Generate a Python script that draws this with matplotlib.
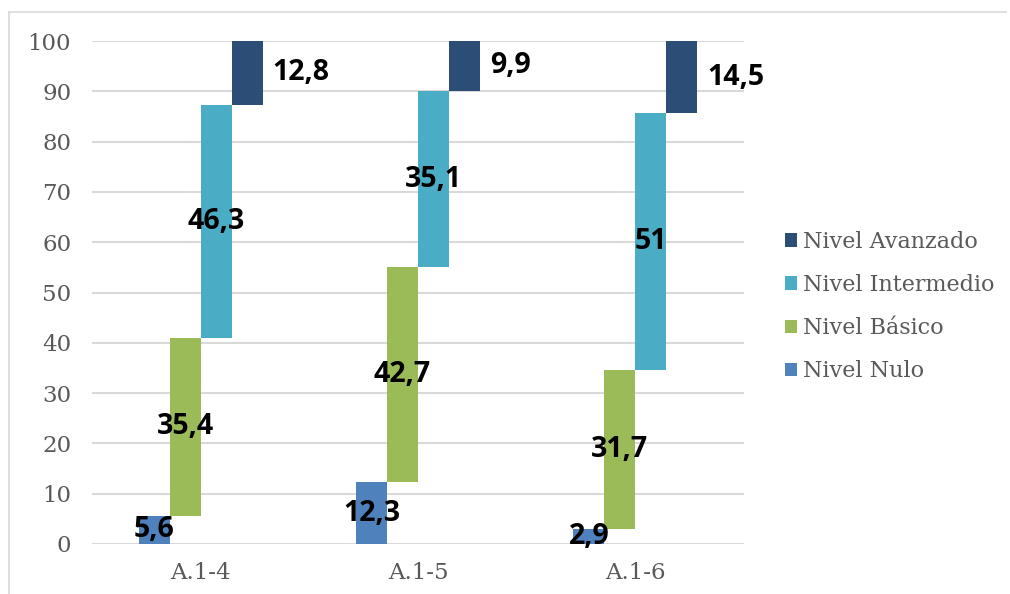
import matplotlib
matplotlib.use("Agg")
import matplotlib.pyplot as plt
import numpy as np
from matplotlib.patches import Patch
from matplotlib.lines import Line2D

categories = ["A.1-4", "A.1-5", "A.1-6"]
series_names = ["Nivel Nulo", "Nivel Básico", "Nivel Intermedio", "Nivel Avanzado"]
nulo = [5.6, 12.3, 2.9]
basico = [35.4, 42.7, 31.7]
intermedio = [46.3, 35.1, 51.0]
avanzado = [12.8, 9.9, 14.5]
colors = ["#4F81BD", "#9BBB59", "#4BACC6", "#2C4D75"]

series = [nulo, basico, intermedio, avanzado]

W, H = 1010, 594
fig = plt.figure(figsize=(W / 100, H / 100), dpi=100)
ax = fig.add_axes([92 / W, 1 - 544 / H, (744 - 92) / W, (544 - 41) / H])

x = np.arange(len(categories))
w = 0.1427
offsets = [-1.5, -0.5, 0.5, 1.5]
bottom = np.zeros(len(categories))
lab_font = {"family": "Open Sans", "weight": "bold", "size": 20.5}

def fmt(v):
    s = ("%.1f" % v).rstrip("0").rstrip(".")
    return s.replace(".", ",")

for i, (vals, col) in enumerate(zip(series, colors)):
    vals = np.array(vals)
    xs = x + offsets[i] * w
    ax.bar(xs, vals, width=w, bottom=bottom, color=col, zorder=3, linewidth=0)
    for j in range(len(categories)):
        mid = bottom[j] + vals[j] / 2
        if i == 3:
            mid = bottom[j] + min(vals[j], 100 - bottom[j]) / 2
            ax.text(xs[j] + w / 2 + 0.045, mid, fmt(vals[j]), ha="left", va="center",
                    color="black", zorder=5, fontdict=lab_font)
        else:
            ax.text(xs[j], mid, fmt(vals[j]), ha="center", va="center",
                    color="black", zorder=5, fontdict=lab_font)
    bottom = bottom + vals

ax.set_xlim(-0.5, 2.5)
ax.set_ylim(0, 100)
ax.set_yticks(range(0, 101, 10))
ax.set_xticks(x)
ax.set_xticklabels(categories)
for s in ax.spines.values():
    s.set_visible(False)
ax.grid(axis="y", color="#D9D9D9", linewidth=1.5, zorder=0)
ax.tick_params(axis="both", length=0, labelsize=16.5, labelcolor="#595959")
ax.tick_params(axis="y", pad=15)
ax.tick_params(axis="x", pad=13)
for lab in ax.get_xticklabels() + ax.get_yticklabels():
    lab.set_family("DejaVu Serif")

handles = [Patch(facecolor=c, edgecolor="none") for c in colors][::-1]
labels = series_names[::-1]
leg = fig.legend(handles, labels, loc="center left", bbox_to_anchor=(785 / W, 1 - 306.5 / H),
                 frameon=False, borderpad=0, borderaxespad=0, handlelength=0.55, handleheight=0.55,
                 handletextpad=0.25, labelspacing=0.95,
                 prop={"family": "DejaVu Serif", "size": 16})
for t in leg.get_texts():
    t.set_color("#595959")

# chart frame (left and top edges)
fig.add_artist(Line2D([9 / W, 9 / W], [0, 1 - 12 / H], transform=fig.transFigure, color="#D9D9D9", linewidth=1.2))
fig.add_artist(Line2D([9 / W, 1 - 4 / W], [1 - 12 / H, 1 - 12 / H], transform=fig.transFigure, color="#D9D9D9", linewidth=1.2))

fig.savefig("out.png", dpi=100)
